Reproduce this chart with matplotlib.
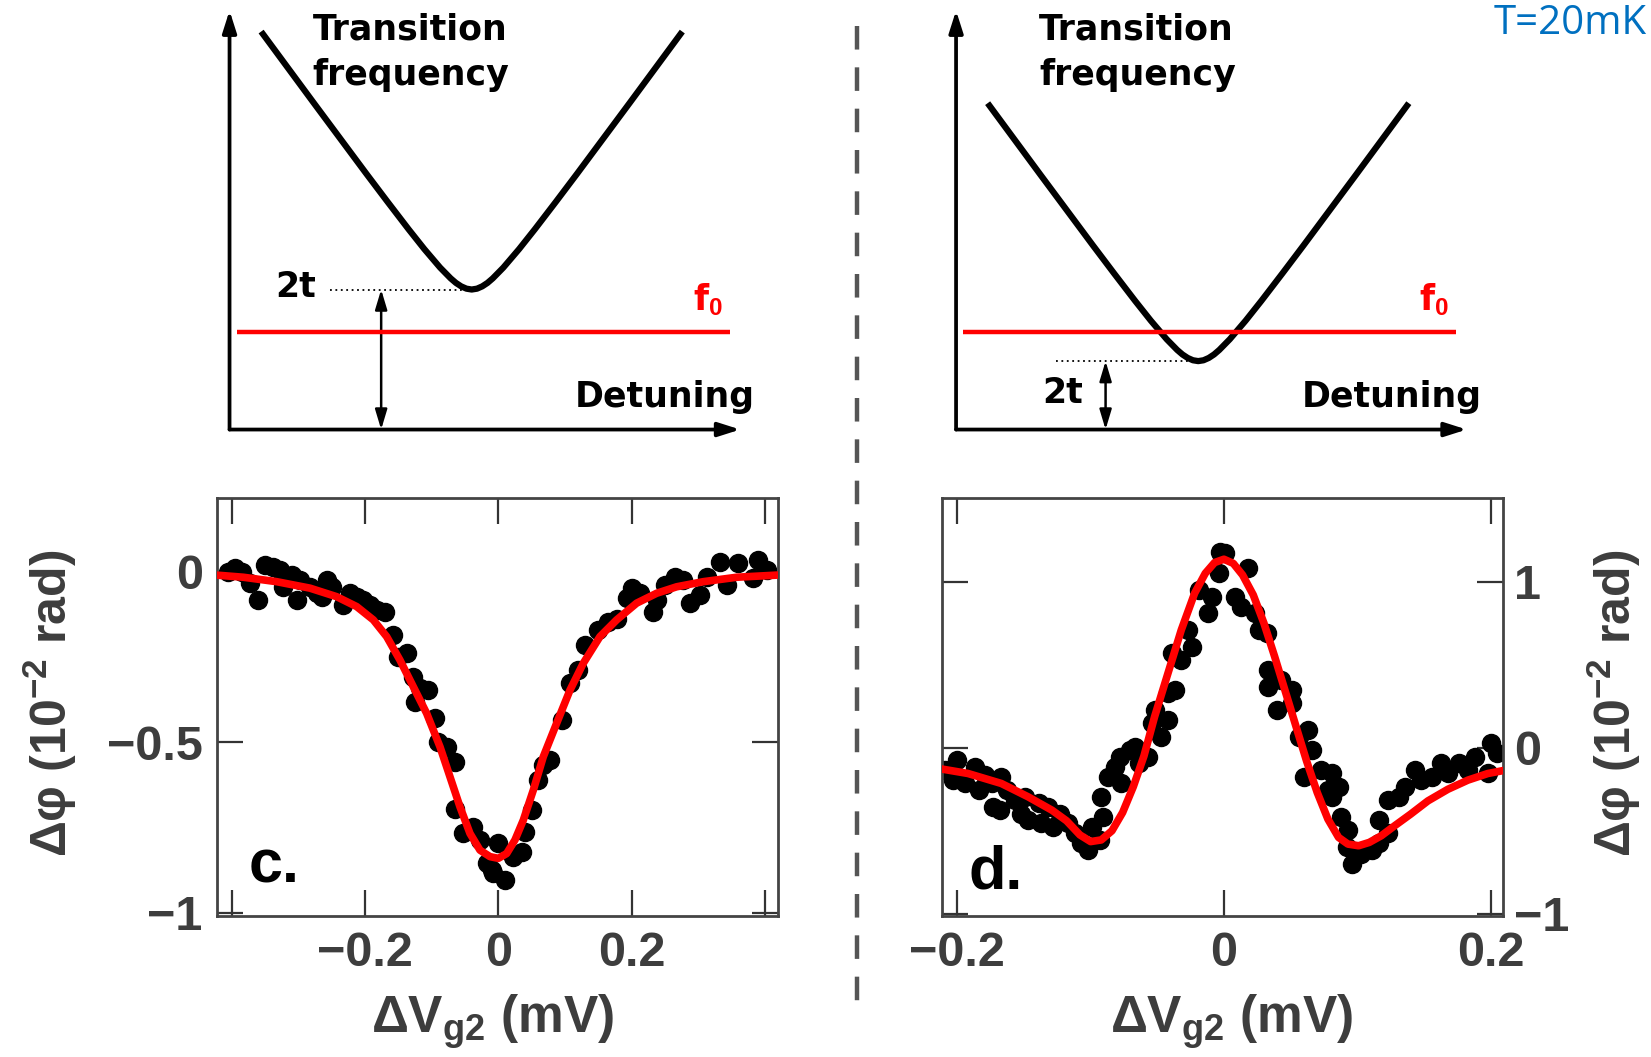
import matplotlib
matplotlib.use('Agg')
import matplotlib.pyplot as plt
from matplotlib.patches import FancyArrowPatch
from matplotlib.lines import Line2D

# ---- panel c: measured phase shift (1e-2 rad) vs gate detuning (mV) ----
c_x = [-0.405, -0.395, -0.385, -0.3725, -0.36, -0.35, -0.3375, -0.3275, -0.3225, -0.31,
       -0.3025, -0.2975, -0.2825, -0.2725, -0.265, -0.2575, -0.25, -0.2325, -0.2225, -0.2125,
       -0.2025, -0.1925, -0.1825, -0.17, -0.1575, -0.15, -0.1375, -0.1275, -0.125, -0.1175,
       -0.105, -0.095, -0.09, -0.0775, -0.065, -0.065, -0.0525, -0.0375, -0.0275, -0.0175,
       -0.01, -0.0075, 0.0, 0.01, 0.0225, 0.035, 0.04, 0.05, 0.06, 0.0675,
       0.0775, 0.095, 0.1075, 0.12, 0.13, 0.15, 0.165, 0.1775, 0.1925, 0.2,
       0.2125, 0.2325, 0.2375, 0.25, 0.265, 0.2775, 0.2875, 0.3025, 0.3125, 0.3325,
       0.3425, 0.36, 0.3825, 0.39, 0.4025]
c_y = [0.0, 0.010, 0.000, -0.034, -0.083, 0.020, 0.015, 0.005, -0.044, -0.009,
       -0.083, -0.024, -0.044, -0.063, -0.073, -0.024, -0.044, -0.097, -0.063, -0.073,
       -0.083, -0.097, -0.112, -0.117, -0.185, -0.249, -0.239, -0.308, -0.381, -0.342,
       -0.347, -0.430, -0.498, -0.513, -0.557, -0.694, -0.767, -0.747, -0.787, -0.855,
       -0.875, -0.884, -0.796, -0.904, -0.835, -0.821, -0.762, -0.698, -0.610, -0.567,
       -0.552, -0.435, -0.327, -0.288, -0.215, -0.171, -0.146, -0.137, -0.078, -0.048,
       -0.063, -0.117, -0.083, -0.039, -0.014, -0.024, -0.092, -0.068, -0.014, 0.030,
       -0.039, 0.025, -0.019, 0.035, 0.005]
c_fit_x = [-0.4275, -0.3825, -0.3325, -0.2825, -0.2425, -0.2125, -0.1875, -0.1675, -0.1475,
           -0.1275, -0.1075, -0.0875, -0.0725, -0.0575, -0.0425, -0.0275, -0.0125, 0.0,
           0.0125, 0.025, 0.0375, 0.0525, 0.0675, 0.0875, 0.1075, 0.1275, 0.1525, 0.1775,
           0.2075, 0.2375, 0.2675, 0.3075, 0.3575, 0.425]
c_fit_y = [-0.009, -0.016, -0.029, -0.048, -0.073, -0.102, -0.141, -0.190, -0.259,
           -0.337, -0.415, -0.513, -0.601, -0.689, -0.767, -0.816, -0.835, -0.840,
           -0.826, -0.786, -0.728, -0.640, -0.542, -0.444, -0.347, -0.268, -0.190, -0.141,
           -0.092, -0.063, -0.044, -0.029, -0.016, -0.009]

# ---- panel d ----
d_x = [-0.209, -0.2005, -0.203, -0.194, -0.187, -0.184, -0.179, -0.174, -0.173, -0.167,
       -0.163, -0.168, -0.157, -0.152, -0.147, -0.149, -0.139, -0.137, -0.132, -0.128,
       -0.123, -0.117, -0.112, -0.107, -0.102, -0.099, -0.093, -0.0905, -0.092, -0.087,
       -0.082, -0.077, -0.078, -0.0705, -0.064, -0.067, -0.057, -0.054, -0.052, -0.047,
       -0.042, -0.042, -0.037, -0.039, -0.032, -0.024, -0.027, -0.019, -0.012, -0.009,
       -0.004, -0.003, 0.001, 0.008, 0.018, 0.013, 0.023, 0.026, 0.032, 0.033,
       0.033, 0.043, 0.051, 0.040, 0.051, 0.056, 0.063, 0.066, 0.060, 0.073,
       0.081, 0.078, 0.086, 0.081, 0.088, 0.093, 0.092, 0.096, 0.103, 0.111,
       0.116, 0.116, 0.123, 0.123, 0.131, 0.136, 0.143, 0.148, 0.156, 0.163,
       0.168, 0.176, 0.183, 0.188, 0.198, 0.200, 0.2045]
d_y = [-0.135, -0.074, -0.195, -0.215, -0.114, -0.255, -0.165, -0.215, -0.355, -0.175,
       -0.255, -0.376, -0.315, -0.396, -0.436, -0.295, -0.335, -0.456, -0.355, -0.476,
       -0.396, -0.456, -0.516, -0.576, -0.616, -0.476, -0.556, -0.416, -0.295, -0.175,
       -0.114, -0.215, -0.054, -0.014, -0.094, 0.006, -0.054, 0.147, 0.227, 0.066,
       0.167, 0.327, 0.347, 0.568, 0.528, 0.608, 0.709, 0.950, 0.809, 0.910,
       1.050, 1.181, 1.171, 0.910, 1.080, 0.849, 0.809, 0.709, 0.689, 0.468,
       0.367, 0.408, 0.347, 0.227, 0.267, 0.066, 0.106, -0.014, -0.175, -0.135,
       -0.155, -0.255, -0.235, -0.295, -0.416, -0.496, -0.596, -0.697, -0.637, -0.616,
       -0.576, -0.436, -0.516, -0.315, -0.295, -0.235, -0.135, -0.195, -0.175, -0.094,
       -0.155, -0.094, -0.135, -0.054, -0.155, 0.026, -0.034]
d_fit_x = [-0.214, -0.192, -0.167, -0.147, -0.129, -0.118, -0.108, -0.100, -0.092, -0.084,
           -0.076, -0.068, -0.060, -0.052, -0.042, -0.032, -0.022, -0.014, -0.007, 0.0,
           0.007, 0.014, 0.022, 0.030, 0.038, 0.046, 0.054, 0.062, 0.070, 0.078,
           0.086, 0.093, 0.101, 0.109, 0.118, 0.128, 0.140, 0.153, 0.168, 0.183,
           0.198, 0.211]
d_fit_y = [-0.125, -0.155, -0.215, -0.295, -0.376, -0.44, -0.525, -0.565, -0.555, -0.50,
           -0.39, -0.235, -0.05, 0.187, 0.448, 0.709, 0.930, 1.05, 1.115, 1.135,
           1.11, 1.04, 0.92, 0.75, 0.55, 0.34, 0.13, -0.08, -0.27, -0.43,
           -0.54, -0.58, -0.59, -0.57, -0.53, -0.47, -0.40, -0.32, -0.25, -0.195,
           -0.155, -0.135]

# ---- schematic: transition frequency vs detuning (arbitrary units) ----
sketch_detuning = [-2.0, -1.5, -1.0, -0.8, -0.6, -0.45, -0.3, -0.2, -0.15, -0.1, -0.05, 0.0,
                   0.05, 0.1, 0.15, 0.2, 0.3, 0.45, 0.6, 0.8, 1.0, 1.5, 2.0]
sketch_rise = [2.45, 1.772, 1.099, 0.834, 0.573, 0.384, 0.208, 0.106, 0.063, 0.030, 0.008, 0.0,
               0.008, 0.030, 0.063, 0.106, 0.208, 0.384, 0.573, 0.834, 1.099, 1.772, 2.45]
sketch_center = 2.30
gap_c = 1.33      # 2t above f0
gap_d = 0.65      # 2t below f0
f0_level = 0.93

plt.rcParams['font.family'] = ['Liberation Sans', 'DejaVu Sans']
plt.rcParams['font.weight'] = 'bold'
plt.rcParams['mathtext.fontset'] = 'custom'
plt.rcParams['mathtext.rm'] = 'Liberation Sans:bold'
plt.rcParams['mathtext.bf'] = 'Liberation Sans:bold'
plt.rcParams['mathtext.it'] = 'Liberation Sans:bold'
plt.rcParams['mathtext.sf'] = 'Liberation Sans:bold'

grey_txt = '#3d3d3d'
frame_col = '#444444'

fig = plt.figure(figsize=(16.51, 10.57), dpi=100)


def draw_sketch(rect, gap, arrow_x, label_2t_xy):
    ax = fig.add_axes(rect)
    ax.set_xlim(-0.3, 5.2)
    ax.set_ylim(-0.3, 4.08)
    ax.axis('off')
    # axes arrows
    for end in [(4.85, 0), (0, 3.98)]:
        ax.add_patch(FancyArrowPatch((0, 0), end, arrowstyle='-|>,head_length=1.1,head_width=0.35',
                                     mutation_scale=12, lw=2.7, color='black',
                                     shrinkA=0, shrinkB=0))
    xs = [sketch_center + d for d in sketch_detuning]
    ys = [gap + r for r in sketch_rise]
    ax.plot(xs, ys, color='black', lw=4.5, solid_capstyle='butt', solid_joinstyle='round')
    ax.plot([0.07, 4.75], [f0_level, f0_level], color='#ff0000', lw=3.2, solid_capstyle='butt')
    ax.plot([0.95, 2.22], [gap, gap], color='black', lw=1.3, linestyle=(0, (1, 2)))
    ax.add_patch(FancyArrowPatch((arrow_x, 0), (arrow_x, gap),
                                 arrowstyle='<|-|>,head_length=1.0,head_width=0.3',
                                 mutation_scale=12, lw=1.8, color='black',
                                 shrinkA=0, shrinkB=0))
    fnt = dict(family='DejaVu Sans', fontweight='bold', fontsize=25)
    ax.text(0.79, 3.585, 'Transition\nfrequency', ha='left', va='center',
            linespacing=1.4, **fnt)
    ax.text(4.99, 0.31, 'Detuning', ha='right', va='center', **fnt)
    ax.text(label_2t_xy[0], label_2t_xy[1], '2t', ha='center', va='center', **fnt)
    ax.text(4.40, 1.23, r'f$_{0}$', ha='left', va='center', color='#ff0000', **fnt)
    return ax


draw_sketch([188 / 1568, 1 - 438 / 1004, 550 / 1568, 438 / 1004], gap_c, 1.44, (0.63, 1.35))
draw_sketch([878 / 1568, 1 - 438 / 1004, 550 / 1568, 438 / 1004], gap_d, 1.42, (1.01, 0.35))


def style_axes(ax):
    for sp in ax.spines.values():
        sp.set_color(frame_col)
        sp.set_linewidth(2.0)
    ax.tick_params(direction='in', length=18.7, width=1.6, color='#333333',
                   top=True, right=True, labelsize=35, labelcolor=grey_txt)
    ax.tick_params(axis='x', pad=11)


# panel c
ax_c = fig.add_axes([0.1316, 0.1334, 0.3398, 0.3952])
ax_c.plot(c_x, c_y, 'o', color='black', ms=13, zorder=2)
ax_c.plot(c_fit_x, c_fit_y, color='#ff0000', lw=5.5, zorder=3)
ax_c.set_xlim(-0.4216, 0.42)
ax_c.set_ylim(-1.009, 0.2155)
ax_c.set_xticks([-0.4, -0.2, 0, 0.2, 0.4])
ax_c.set_xticklabels(['', '\u22120.2', '0', '0.2', ''])
ax_c.set_yticks([-1, -0.5, 0])
ax_c.set_yticklabels(['\u22121', '\u22120.5', '0'])
style_axes(ax_c)
ax_c.tick_params(axis='y', pad=10.5)
ax_c.text(0.055, 0.081, 'c.', transform=ax_c.transAxes, fontsize=44,
          color='black', ha='left', va='baseline')

# panel d
ax_d = fig.add_axes([0.5707, 0.1334, 0.3398, 0.3952])
ax_d.plot(d_x, d_y, 'o', color='black', ms=13, zorder=2)
ax_d.plot(d_fit_x, d_fit_y, color='#ff0000', lw=5.5, zorder=3)
ax_d.set_xlim(-0.2113, 0.2095)
ax_d.set_ylim(-1.013, 1.502)
ax_d.set_xticks([-0.2, 0, 0.2])
ax_d.set_xticklabels(['\u22120.2', '0', '0.2'])
ax_d.set_yticks([-1, 0, 1])
ax_d.set_yticklabels(['\u22121', '0', '1'])
style_axes(ax_d)
ax_d.tick_params(axis='y', labelleft=False, labelright=True, pad=8)
ax_d.text(0.046, 0.067, 'd.', transform=ax_d.transAxes, fontsize=44,
          color='black', ha='left', va='baseline')

# axis labels
xlab = '\u0394V$_{\\mathregular{g2}}$ (mV)'
ylab = '\u0394\u03c6 (10$^{\\mathregular{-2}}$ rad)'
for xc in (493, 1232):
    fig.text(xc / 1651, 1 - 1033 / 1057, xlab, ha='center', va='baseline',
             fontsize=37, color=grey_txt)
for xc in (50, 1614):
    fig.text(xc / 1651, 1 - 703 / 1057, ylab, ha='center', va='center', rotation=90,
             fontsize=36, color=grey_txt)

# divider between the two cases
fig.add_artist(Line2D([0.5191, 0.5191], [0.975, 0.0435], transform=fig.transFigure,
                      color='#555555', lw=3.2, linestyle=(0, (5.3, 4.0))))

fig.text(1494 / 1651, 1 - 24 / 1057, 'T=20mK', family='Open Sans', fontweight='normal',
         fontsize=29, color='#0070c0', ha='left', va='center')

fig.savefig('out.png', dpi=100)
